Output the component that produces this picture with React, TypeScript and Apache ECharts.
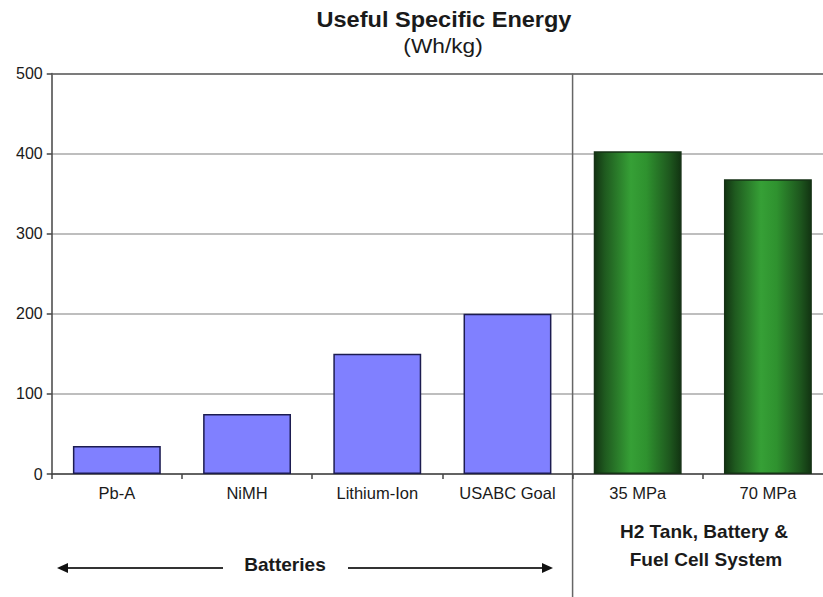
import React, { useEffect, useRef } from "react";
import * as echarts from "echarts";

// Useful specific energy (Wh/kg) by storage technology
const categories = ["Pb-A", "NiMH", "Lithium-Ion", "USABC Goal", "35 MPa", "70 MPa"];
const energy = [35, 75, 150, 200, 403, 368];
const batteryCount = 4; // first four categories are batteries
const yMin = 0;
const yMax = 500;
const yInterval = 100;

const FONT = "'Liberation Sans', Arial, Helvetica, sans-serif";
const INK = "#1a1a1a";

const blueStyle = {
  color: "#8080ff",
  borderColor: "#1c1c50",
  borderWidth: 1.5,
};

const greenStyle = () => ({
  color: new echarts.graphic.LinearGradient(0, 0, 1, 0, [
    { offset: 0, color: "#123412" },
    { offset: 0.12, color: "#1f5a1f" },
    { offset: 0.42, color: "#36a036" },
    { offset: 0.6, color: "#2f922f" },
    { offset: 0.88, color: "#1d551d" },
    { offset: 1, color: "#123412" },
  ]),
  borderColor: "#163216",
  borderWidth: 1.5,
});

const textEl = (
  text: string,
  x: number,
  y: number,
  fontSize: number,
  bold: boolean,
  scaleX = 1.06
) => ({
  type: "text",
  x,
  y,
  scaleX,
  style: {
    text,
    fontFamily: FONT,
    fontSize,
    fontWeight: bold ? "bold" : "normal",
    fill: INK,
    align: "center",
    verticalAlign: "middle",
  },
});

export default function App() {
  const ref = useRef<HTMLDivElement>(null);

  useEffect(() => {
    document.body.style.margin = "0";
    document.body.style.overflow = "hidden";
    document.documentElement.style.overflow = "hidden";
    const chart = echarts.init(ref.current!, null, { renderer: "svg" });

    chart.setOption({
      animation: false,
      backgroundColor: "#ffffff",
      grid: { left: 51.75, top: 73.5, right: 0, bottom: 123 },
      xAxis: {
        type: "category",
        data: categories,
        axisLine: { lineStyle: { color: "#444", width: 1.5 } },
        axisTick: { show: true, length: 5, lineStyle: { color: "#444", width: 1.5 } },
        axisLabel: { color: INK, fontFamily: FONT, fontSize: 16.5, margin: 10 },
      },
      yAxis: {
        type: "value",
        min: yMin,
        max: yMax,
        interval: yInterval,
        axisLine: { show: true, lineStyle: { color: "#444", width: 1.5 } },
        axisTick: { show: true, length: 5, lineStyle: { color: "#444", width: 1.5 } },
        axisLabel: { color: INK, fontFamily: FONT, fontSize: 16, margin: 9 },
        splitLine: { show: true, lineStyle: { color: "#a8a8a8", width: 1.5 } },
      },
      series: [
        {
          type: "bar",
          barWidth: "67.5%",
          data: energy.map((v, i) => ({
            value: v,
            itemStyle: i < batteryCount ? blueStyle : greenStyle(),
          })),
          markLine: {
            silent: true,
            symbol: "none",
            label: { show: false },
            lineStyle: { color: "#666", width: 1.5, type: "solid" },
            data: [{ yAxis: yMax }],
          },
        },
      ],
    });

    // divider between battery and hydrogen groups
    const a = chart.convertToPixel({ xAxisIndex: 0 }, batteryCount - 1) as number;
    const b = chart.convertToPixel({ xAxisIndex: 0 }, batteryCount) as number;
    const divX = (a + b) / 2;
    const topY = chart.convertToPixel({ yAxisIndex: 0 }, yMax) as number;

    const arrowY = 568;
    const lineStyle = { stroke: "#333", lineWidth: 2 };

    chart.setOption({
      graphic: [
        textEl("Useful Specific Energy", 444, 19, 22, true, 1.07),
        textEl("(Wh/kg)", 443, 46, 21, false, 1.08),
        {
          type: "line",
          shape: { x1: divX, y1: topY, x2: divX, y2: 597 },
          style: { stroke: "#666", lineWidth: 1.5 },
        },
        textEl("Batteries", 285, 565, 18, true),
        { type: "line", shape: { x1: 66, y1: arrowY, x2: 223, y2: arrowY }, style: lineStyle },
        {
          type: "polygon",
          shape: { points: [[57, arrowY], [68, arrowY - 5], [68, arrowY + 5]] },
          style: { fill: "#111" },
        },
        { type: "line", shape: { x1: 348, y1: arrowY, x2: 544, y2: arrowY }, style: lineStyle },
        {
          type: "polygon",
          shape: { points: [[553, arrowY], [542, arrowY - 5], [542, arrowY + 5]] },
          style: { fill: "#111" },
        },
        textEl("H2 Tank, Battery &", 704, 532, 18, true),
        textEl("Fuel Cell System", 706, 560, 18, true),
      ],
    });

    return () => chart.dispose();
  }, []);

  // the plot runs slightly past the right edge of the page, as in the original layout
  return <div ref={ref} style={{ width: 833, height: 597 }} />;
}
